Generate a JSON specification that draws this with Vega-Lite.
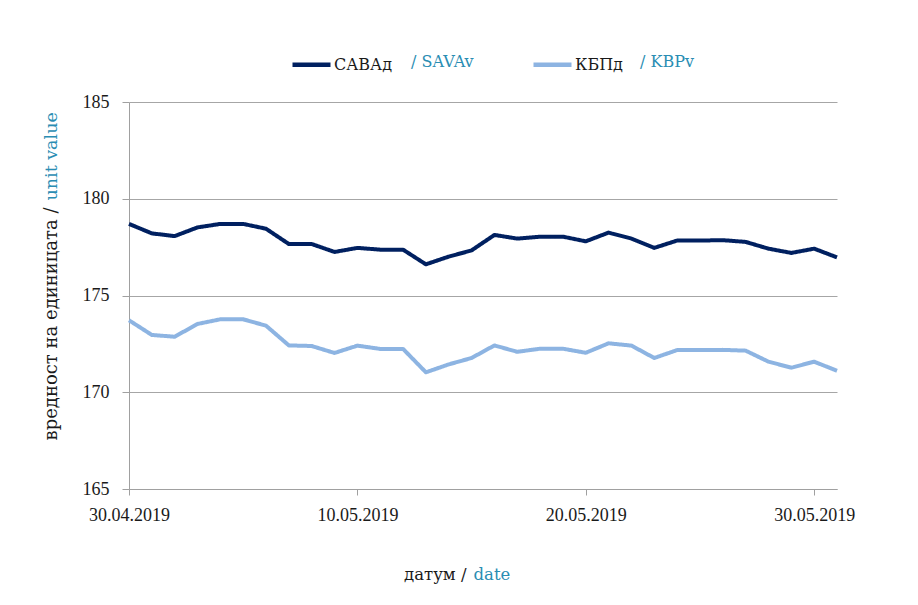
{
  "$schema": "https://vega.github.io/schema/vega-lite/v6.json",
  "width": 708,
  "height": 387,
  "autosize": {"type": "none"},
  "padding": {"left": 129, "top": 102, "right": 81, "bottom": 116},
  "background": "#ffffff",
  "data": {"values": [
    {"date": "2019-04-30", "series": "САВАд", "en": "/ SAVAv", "value": 178.70},
    {"date": "2019-05-01", "series": "САВАд", "en": "/ SAVAv", "value": 178.21},
    {"date": "2019-05-02", "series": "САВАд", "en": "/ SAVAv", "value": 178.07},
    {"date": "2019-05-03", "series": "САВАд", "en": "/ SAVAv", "value": 178.52},
    {"date": "2019-05-04", "series": "САВАд", "en": "/ SAVAv", "value": 178.70},
    {"date": "2019-05-05", "series": "САВАд", "en": "/ SAVAv", "value": 178.70},
    {"date": "2019-05-06", "series": "САВАд", "en": "/ SAVAv", "value": 178.45},
    {"date": "2019-05-07", "series": "САВАд", "en": "/ SAVAv", "value": 177.66},
    {"date": "2019-05-08", "series": "САВАд", "en": "/ SAVAv", "value": 177.66},
    {"date": "2019-05-09", "series": "САВАд", "en": "/ SAVAv", "value": 177.25},
    {"date": "2019-05-10", "series": "САВАд", "en": "/ SAVAv", "value": 177.46},
    {"date": "2019-05-11", "series": "САВАд", "en": "/ SAVAv", "value": 177.37},
    {"date": "2019-05-12", "series": "САВАд", "en": "/ SAVAv", "value": 177.37},
    {"date": "2019-05-13", "series": "САВАд", "en": "/ SAVAv", "value": 176.61},
    {"date": "2019-05-14", "series": "САВАд", "en": "/ SAVAv", "value": 177.01},
    {"date": "2019-05-15", "series": "САВАд", "en": "/ SAVAv", "value": 177.33},
    {"date": "2019-05-16", "series": "САВАд", "en": "/ SAVAv", "value": 178.13},
    {"date": "2019-05-17", "series": "САВАд", "en": "/ SAVAv", "value": 177.94},
    {"date": "2019-05-18", "series": "САВАд", "en": "/ SAVAv", "value": 178.04},
    {"date": "2019-05-19", "series": "САВАд", "en": "/ SAVAv", "value": 178.04},
    {"date": "2019-05-20", "series": "САВАд", "en": "/ SAVAv", "value": 177.80},
    {"date": "2019-05-21", "series": "САВАд", "en": "/ SAVAv", "value": 178.25},
    {"date": "2019-05-22", "series": "САВАд", "en": "/ SAVAv", "value": 177.94},
    {"date": "2019-05-23", "series": "САВАд", "en": "/ SAVAv", "value": 177.46},
    {"date": "2019-05-24", "series": "САВАд", "en": "/ SAVAv", "value": 177.84},
    {"date": "2019-05-25", "series": "САВАд", "en": "/ SAVAv", "value": 177.84},
    {"date": "2019-05-26", "series": "САВАд", "en": "/ SAVAv", "value": 177.86},
    {"date": "2019-05-27", "series": "САВАд", "en": "/ SAVAv", "value": 177.77},
    {"date": "2019-05-28", "series": "САВАд", "en": "/ SAVAv", "value": 177.42},
    {"date": "2019-05-29", "series": "САВАд", "en": "/ SAVAv", "value": 177.20},
    {"date": "2019-05-30", "series": "САВАд", "en": "/ SAVAv", "value": 177.42},
    {"date": "2019-05-31", "series": "САВАд", "en": "/ SAVAv", "value": 176.97},
    {"date": "2019-04-30", "series": "КБПд", "en": "/ KBPv", "value": 173.72},
    {"date": "2019-05-01", "series": "КБПд", "en": "/ KBPv", "value": 172.96},
    {"date": "2019-05-02", "series": "КБПд", "en": "/ KBPv", "value": 172.87},
    {"date": "2019-05-03", "series": "КБПд", "en": "/ KBPv", "value": 173.53},
    {"date": "2019-05-04", "series": "КБПд", "en": "/ KBPv", "value": 173.77},
    {"date": "2019-05-05", "series": "КБПд", "en": "/ KBPv", "value": 173.77},
    {"date": "2019-05-06", "series": "КБПд", "en": "/ KBPv", "value": 173.44},
    {"date": "2019-05-07", "series": "КБПд", "en": "/ KBPv", "value": 172.42},
    {"date": "2019-05-08", "series": "КБПд", "en": "/ KBPv", "value": 172.39},
    {"date": "2019-05-09", "series": "КБПд", "en": "/ KBPv", "value": 172.03},
    {"date": "2019-05-10", "series": "КБПд", "en": "/ KBPv", "value": 172.41},
    {"date": "2019-05-11", "series": "КБПд", "en": "/ KBPv", "value": 172.24},
    {"date": "2019-05-12", "series": "КБПд", "en": "/ KBPv", "value": 172.24},
    {"date": "2019-05-13", "series": "КБПд", "en": "/ KBPv", "value": 171.03},
    {"date": "2019-05-14", "series": "КБПд", "en": "/ KBPv", "value": 171.44},
    {"date": "2019-05-15", "series": "КБПд", "en": "/ KBPv", "value": 171.77},
    {"date": "2019-05-16", "series": "КБПд", "en": "/ KBPv", "value": 172.42},
    {"date": "2019-05-17", "series": "КБПд", "en": "/ KBPv", "value": 172.09},
    {"date": "2019-05-18", "series": "КБПд", "en": "/ KBPv", "value": 172.25},
    {"date": "2019-05-19", "series": "КБПд", "en": "/ KBPv", "value": 172.25},
    {"date": "2019-05-20", "series": "КБПд", "en": "/ KBPv", "value": 172.04},
    {"date": "2019-05-21", "series": "КБПд", "en": "/ KBPv", "value": 172.53},
    {"date": "2019-05-22", "series": "КБПд", "en": "/ KBPv", "value": 172.41},
    {"date": "2019-05-23", "series": "КБПд", "en": "/ KBPv", "value": 171.77},
    {"date": "2019-05-24", "series": "КБПд", "en": "/ KBPv", "value": 172.18},
    {"date": "2019-05-25", "series": "КБПд", "en": "/ KBPv", "value": 172.18},
    {"date": "2019-05-26", "series": "КБПд", "en": "/ KBPv", "value": 172.19},
    {"date": "2019-05-27", "series": "КБПд", "en": "/ KBPv", "value": 172.15},
    {"date": "2019-05-28", "series": "КБПд", "en": "/ KBPv", "value": 171.58},
    {"date": "2019-05-29", "series": "КБПд", "en": "/ KBPv", "value": 171.27},
    {"date": "2019-05-30", "series": "КБПд", "en": "/ KBPv", "value": 171.58},
    {"date": "2019-05-31", "series": "КБПд", "en": "/ KBPv", "value": 171.11}
  ]},
  "layer": [
    {
      "mark": {"type": "line", "strokeWidth": 4, "strokeJoin": "round"},
      "encoding": {
        "x": {
          "field": "date", "type": "temporal",
          "scale": {"type": "utc", "domain": [{"year": 2019, "month": 4, "date": 30, "utc": true}, {"year": 2019, "month": 5, "date": 31, "utc": true}]},
          "axis": {
            "values": [{"year": 2019, "month": 4, "date": 30, "utc": true}, {"year": 2019, "month": 5, "date": 10, "utc": true}, {"year": 2019, "month": 5, "date": 20, "utc": true}, {"year": 2019, "month": 5, "date": 30, "utc": true}],
            "labelExpr": "utcFormat(datum.value, '%d.%m.%Y')",
            "labelFlush": false, "labelOverlap": false,
            "grid": false, "tickSize": 6, "labelPadding": 11,
            "labelFont": "Liberation Serif", "labelFontSize": 18, "labelColor": "#1a1a1a",
            "domainColor": "#a0a0a0", "tickColor": "#a0a0a0",
            "title": "датум /", "titleFont": "DejaVu Serif", "titleFontSize": 16.5, "titleFontWeight": "normal", "titleColor": "#1a1a1a",
            "titleAlign": "right", "titleAnchor": null, "titleBaseline": "alphabetic", "titleX": 337, "titleY": 90
          }
        },
        "y": {
          "field": "value", "type": "quantitative",
          "scale": {"domain": [165, 185], "nice": false, "zero": false},
          "axis": {
            "values": [165, 170, 175, 180, 185],
            "grid": true, "gridColor": "#a6a6a6", "gridWidth": 1,
            "tickSize": 7, "labelPadding": 13,
            "labelFont": "Liberation Serif", "labelFontSize": 18, "labelColor": "#1a1a1a",
            "domainColor": "#a0a0a0", "tickColor": "#a0a0a0",
            "title": "вредност на единицата /", "titleFont": "DejaVu Serif", "titleFontSize": 18, "titleFontWeight": "normal", "titleColor": "#1a1a1a",
            "titleAngle": -90, "titleAlign": "right", "titleAnchor": null, "titleBaseline": "alphabetic", "titleX": -73, "titleY": 105
          }
        },
        "color": {
          "field": "series", "type": "nominal",
          "scale": {"domain": ["САВАд", "КБПд"], "range": ["#002060", "#8db4e2"]},
          "legend": {
            "orient": "none", "legendX": 161, "legendY": -59, "direction": "horizontal", "columns": 2,
            "title": null, "padding": 0, "columnPadding": 131,
            "symbolType": "stroke", "symbolSize": 1444, "symbolStrokeWidth": 4.5,
            "labelOffset": 1, "labelFont": "DejaVu Serif", "labelFontSize": 16, "labelColor": "#1a1a1a", "labelLimit": 300
          }
        },
        "strokeDash": {
          "field": "en", "type": "nominal",
          "scale": {"domain": ["/ SAVAv", "/ KBPv"], "range": [[1, 0], [1, 0]]},
          "legend": {
            "orient": "none", "legendX": 266, "legendY": -48, "direction": "horizontal", "columns": 2,
            "title": null, "padding": 0, "columnPadding": 150,
            "symbolSize": 0, "symbolStrokeWidth": 0, "symbolOpacity": 0,
            "labelOffset": 0, "labelFont": "DejaVu Serif", "labelFontSize": 16, "labelColor": "#2a8db3", "labelLimit": 300
          }
        }
      }
    },
    {
      "mark": {"type": "point", "opacity": 0},
      "encoding": {
        "x": {
          "field": "date", "type": "temporal",
          "scale": {"type": "utc", "domain": [{"year": 2019, "month": 4, "date": 30, "utc": true}, {"year": 2019, "month": 5, "date": 31, "utc": true}]},
          "axis": {
            "orient": "top", "labels": false, "ticks": false, "domain": false, "grid": false,
            "title": "date", "titleFont": "DejaVu Serif", "titleFontSize": 16.5, "titleFontWeight": "normal", "titleColor": "#2a8db3",
            "titleAlign": "left", "titleAnchor": null, "titleBaseline": "alphabetic", "titleX": 344, "titleY": 477
          }
        },
        "y": {
          "field": "value", "type": "quantitative",
          "scale": {"domain": [165, 185], "nice": false, "zero": false},
          "axis": {
            "orient": "right", "labels": false, "ticks": false, "domain": false, "grid": false,
            "title": "unit value", "titleFont": "DejaVu Serif", "titleFontSize": 17.5, "titleFontWeight": "normal", "titleColor": "#2a8db3",
            "titleAngle": -90, "titleAlign": "left", "titleAnchor": null, "titleBaseline": "alphabetic", "titleX": -781, "titleY": 98
          }
        }
      }
    }
  ],
  "resolve": {"scale": {"x": "independent", "y": "independent"}},
  "config": {
    "view": {"stroke": null},
    "font": "DejaVu Serif"
  }
}
